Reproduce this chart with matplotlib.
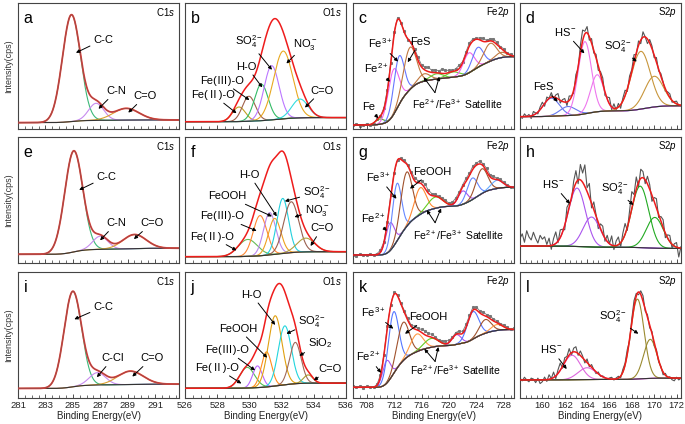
import numpy as np
import matplotlib
matplotlib.use("Agg")
import matplotlib.pyplot as plt
from matplotlib.ticker import MultipleLocator

plt.rcParams["font.family"] = ["Liberation Sans", "Noto Sans CJK SC", "DejaVu Sans"]
plt.rcParams["mathtext.fontset"] = "custom"
plt.rcParams["mathtext.rm"] = "Liberation Sans"
plt.rcParams["mathtext.it"] = "Liberation Sans:italic"
plt.rcParams["mathtext.bf"] = "Liberation Sans:bold"

# ---- fitted components: (centre eV, height, fwhm eV), heights relative to main peak ----
# C1s
peaks_a = [(284.9, 1.00, 1.55), (286.7, 0.16, 1.3), (288.9, 0.11, 2.2)]
peaks_e = [(285.07, 1.00, 1.55), (287.0, 0.13, 1.3), (289.5, 0.14, 2.0)]
peaks_i = [(285.0, 1.00, 1.5), (286.8, 0.13, 1.4), (289.2, 0.14, 2.2)]
# O1s
peaks_b = [(529.35, 0.14, 0.95), (529.97, 0.24, 0.95), (530.74, 0.35, 1.0),
           (531.38, 0.52, 1.1), (532.1, 0.65, 1.4), (533.14, 0.18, 1.2)]
peaks_f = [(529.9, 0.16, 1.4), (530.66, 0.38, 1.0), (531.26, 0.40, 0.9),
           (531.57, 0.34, 0.9), (532.07, 0.52, 0.85), (532.6, 0.48, 1.1),
           (533.5, 0.13, 1.3)]
peaks_j = [(529.86, 0.20, 1.1), (530.5, 0.21, 0.7), (531.06, 0.34, 0.75),
           (531.6, 0.68, 1.0), (532.2, 0.57, 0.95), (532.85, 0.40, 0.85),
           (533.65, 0.08, 0.7)]
# Fe2p
peaks_c = [(709.9, 0.05, 1.5), (711.9, 0.43, 1.9), (712.7, 0.46, 1.8), (714.3, 0.40, 2.2),
           (716.4, 0.07, 2.0), (718.2, 0.05, 2.2), (720.6, 0.05, 2.2),
           (722.9, 0.19, 1.9), (724.2, 0.19, 1.9), (726.0, 0.17, 2.2), (727.6, 0.05, 2.0)]
peaks_g = [(711.4, 0.27, 1.5), (712.4, 0.56, 1.6), (713.8, 0.53, 2.0), (715.8, 0.26, 2.0),
           (718.0, 0.11, 2.5), (722.0, 0.13, 1.6), (723.4, 0.21, 1.8), (724.8, 0.24, 2.0),
           (727.0, 0.08, 2.0)]
peaks_k = [(710.9, 0.23, 1.4), (711.9, 0.63, 1.8), (713.3, 0.39, 2.1), (715.3, 0.18, 2.2),
           (717.4, 0.09, 2.5), (721.1, 0.10, 1.6), (723.5, 0.28, 2.0), (725.3, 0.14, 2.0),
           (727.0, 0.06, 2.0)]
# S2p
peaks_d = [(160.8, 0.20, 1.7), (162.3, 0.10, 1.7), (163.8, 0.80, 1.4), (164.9, 0.41, 1.4),
           (168.8, 0.64, 2.0), (170.0, 0.34, 2.0)]
peaks_h = [(163.1, 0.76, 1.8), (164.4, 0.39, 1.8), (168.75, 0.80, 1.8), (170.06, 0.40, 1.8)]
peaks_l = [(162.65, 0.27, 1.8), (164.0, 0.13, 1.9), (168.5, 0.88, 1.4), (169.65, 0.43, 1.4)]

# background level reached at the high binding-energy end
bg_end = {"a": 0.025, "e": 0.06, "i": 0.045, "b": 0.04, "f": 0.047, "j": 0.05,
          "c": 0.65, "g": 0.66, "k": 0.59, "d": 0.12, "h": -0.03, "l": 0.02}

# raw-minus-fit residuals
dev_c = [0.00, 0.01, -0.01, 0.00, 0.01, 0.00, -0.01, 0.01, 0.00, 0.01, 0.02, 0.01,
         0.03, 0.02, 0.00, 0.01, -0.01, 0.01, 0.02, 0.03, 0.02, 0.03, 0.04, 0.02,
         0.03, 0.02, 0.04, 0.03, 0.02, 0.01, 0.02, 0.03, 0.01, 0.02, 0.03, 0.02,
         0.01, 0.02, 0.03, 0.01, 0.02, 0.03, 0.02, 0.01, 0.02, 0.00, 0.01, 0.00]
dev_g = [0.00, -0.01, 0.01, 0.00, 0.00, 0.01, 0.00, 0.01, 0.02, 0.01, 0.01, 0.02,
         0.01, 0.00, 0.01, 0.02, 0.01, 0.02, 0.03, 0.02, 0.03, 0.04, 0.03, 0.02,
         0.02, 0.01, 0.02, 0.02, 0.01, 0.02, 0.03, 0.02, 0.02, 0.03, 0.02, 0.03,
         0.02, 0.03, 0.02, 0.03, 0.02, 0.03, 0.01, 0.02, 0.01, 0.01, 0.00, 0.00]
dev_k = [0.01, 0.00, 0.01, -0.01, 0.01, 0.00, 0.00, 0.01, 0.02, 0.01, 0.02, 0.01,
         0.02, 0.01, 0.01, 0.02, 0.02, 0.01, 0.03, 0.02, 0.03, 0.04, 0.03, 0.03,
         0.02, 0.01, 0.02, 0.03, 0.02, 0.01, 0.02, 0.03, 0.02, 0.03, 0.02, 0.03,
         0.03, 0.02, 0.03, 0.02, 0.03, 0.02, 0.02, 0.01, 0.02, 0.01, 0.00, 0.01]
dev_d = [0.01, -0.02, 0.03, 0.00, 0.02, -0.03, 0.04, 0.01, -0.02, 0.03, 0.05,
         -0.03, 0.04, 0.00, 0.05, -0.02, 0.03, 0.06, -0.03, 0.02, 0.04, -0.04, 0.05, 0.01, -0.03,
         0.06, -0.02, 0.08, 0.12, 0.03, 0.07, -0.04, 0.05, -0.03, 0.04,
         -0.05, 0.03, 0.06, -0.04, 0.02, 0.07, -0.03, 0.05, -0.02, 0.04,
         -0.04, 0.03, 0.06, -0.03, 0.05, 0.02, 0.08, -0.02, 0.05, -0.04, 0.06, 0.00, -0.05, 0.04, 0.03,
         -0.03, 0.05, -0.02, 0.03, 0.01, -0.03, 0.02, 0.04, -0.02, 0.01, 0.03, -0.01, 0.00]
dev_h = [0.10, 0.16, 0.05, 0.20, 0.12, 0.08, 0.18, 0.10, 0.04, 0.14, 0.09,
         0.12, 0.02, 0.10, -0.05, 0.08, 0.15, -0.02, 0.10, 0.04, -0.06, 0.12, 0.05, -0.04, 0.10,
         0.16, -0.05, 0.20, 0.12, 0.28, 0.05, 0.18, -0.06, 0.10, 0.02,
         -0.08, 0.06, 0.10, -0.04, 0.08, 0.00, 0.12, -0.05, 0.06, 0.10,
         -0.06, 0.08, 0.14, -0.04, 0.10, 0.22, 0.05, 0.16, -0.06, 0.12, 0.08, -0.05, 0.10, 0.06, -0.08,
         0.05, 0.12, -0.04, 0.06, 0.10, -0.06, 0.04, 0.08, -0.05, 0.03, 0.06, -0.12, 0.02]
dev_l = [0.02, -0.01, 0.03, 0.00, -0.02, 0.02, 0.01, -0.03, 0.02, -0.04, -0.02,
         0.03, -0.02, 0.05, 0.00, 0.06, -0.03, 0.04, 0.08, -0.02, 0.05, 0.02, 0.07, -0.03, 0.04,
         0.06, -0.02, 0.05, 0.02, -0.03, 0.04, -0.02, 0.03, 0.00, -0.02,
         0.02, -0.01, 0.01, 0.00, -0.01, 0.01, 0.02, -0.01, 0.01, 0.02,
         -0.02, 0.03, 0.02, 0.05, -0.02, 0.04, 0.07, 0.03, -0.03, 0.04, 0.06, -0.02, 0.03, -0.03, 0.02,
         -0.04, 0.02, -0.02, 0.01, -0.03, 0.02, -0.01, 0.01, -0.02, -0.03, 0.01, -0.02, 0.00]

# ---- styling ----
C1S_COL = ["#3cb878", "#c78bef", "#d9a030"]
colors = {
    "a": C1S_COL, "e": C1S_COL, "i": C1S_COL,
    "b": ["#c0a020", "#a0604a", "#33bb66", "#bb77ff", "#e8a820", "#33dddd"],
    "f": ["#66bb55", "#ff8833", "#bb88ee", "#eea020", "#22d0dd", "#9a6050", "#b0a040"],
    "j": ["#55bb55", "#bb66ff", "#ff8c1a", "#e0a010", "#22d5dd", "#a06a5a", "#a89a30"],
    "c": ["#55aa22", "#ee66ee", "#6677ff", "#c07840", "#c07840", "#66cc33", "#66cc33",
          "#ee66ee", "#6677ff", "#c07840", "#c07840"],
    "g": ["#aa55ee", "#6688ff", "#a0522d", "#ff8833", "#66cc22", "#aa55ee", "#6688ff",
          "#a0522d", "#66aaff"],
    "k": ["#aa55ee", "#5577ff", "#a0522d", "#ff9944", "#66cc22", "#aa55ee", "#5577ff",
          "#a0522d", "#ff9944"],
    "d": ["#6677ee", "#6677ee", "#ee77ee", "#ee77ee", "#c8963c", "#c8963c"],
    "h": ["#aa55ee", "#aa55ee", "#22aa22", "#22aa22"],
    "l": ["#dd66dd", "#dd66dd", "#9a8a30", "#9a8a30"],
}

W, H = 685, 424
col_left = [18, 185, 353, 520]
row_top = [3, 137, 272]
pw, ph = 161, 126

xr = {"C1s": (281, 292.75), "O1s": (526, 536), "Fe2p": (706, 729.5), "S2p": (158, 172.4)}
xticks = {"C1s": (281, 2, 0.5), "O1s": (526, 2, 0.5), "Fe2p": (708, 4, 1), "S2p": (160, 2, 0.5)}
core_txt = {"C1s": "C1$s$", "O1s": "O1$s$", "Fe2p": "Fe2$p$", "S2p": "S2$p$"}

panels = [
    ("a", 0, 0, "C1s", peaks_a, (-0.06, 1.12), None),
    ("b", 0, 1, "O1s", peaks_b, (-0.07, 1.14), None),
    ("c", 0, 2, "Fe2p", peaks_c, (-0.038, 1.16), dev_c),
    ("d", 0, 3, "S2p", peaks_d, (-0.137, 1.26), dev_d),
    ("e", 1, 0, "C1s", peaks_e, (-0.086, 1.16), None),
    ("f", 1, 1, "O1s", peaks_f, (-0.06, 1.13), None),
    ("g", 1, 2, "Fe2p", peaks_g, (-0.078, 1.15), dev_g),
    ("h", 1, 3, "S2p", peaks_h, (-0.22, 1.42), dev_h),
    ("i", 2, 0, "C1s", peaks_i, (-0.10, 1.22), None),
    ("j", 2, 1, "O1s", peaks_j, (-0.094, 1.126), None),
    ("k", 2, 2, "Fe2p", peaks_k, (-0.109, 1.177), dev_k),
    ("l", 2, 3, "S2p", peaks_l, (-0.199, 1.19), dev_l),
]

# labels: (text, text position, arrow tip) in axes fraction
SO4 = "SO$_4^{2-}$"
FE2 = "Fe$^{2+}$"
FE3 = "Fe$^{3+}$"
notes = {
    "a": [("C-C", (0.53, 0.71), (0.36, 0.605)), ("C-N", (0.61, 0.30), (0.50, 0.16)),
          ("C=O", (0.79, 0.26), (0.685, 0.13))],
    "e": [("C-C", (0.55, 0.685), (0.38, 0.58)), ("C-N", (0.61, 0.315), (0.51, 0.18)),
          ("C=O", (0.83, 0.315), (0.72, 0.19))],
    "i": [("C-C", (0.53, 0.725), (0.35, 0.625)), ("C-Cl", (0.59, 0.315), (0.49, 0.165)),
          ("C=O", (0.83, 0.315), (0.71, 0.17))],
    "b": [(SO4, (0.40, 0.69), (0.54, 0.47)), ("NO$_3^-$", (0.745, 0.67), (0.63, 0.52)),
          ("H-O", (0.383, 0.495), (0.48, 0.33)), ("Fe(Ⅲ)-O", (0.228, 0.383), (0.40, 0.23)),
          ("Fe(Ⅱ)-O", (0.176, 0.27), (0.32, 0.125)), ("C=O", (0.85, 0.305), (0.745, 0.17))],
    "f": [("H-O", (0.40, 0.70), (0.57, 0.37)), (SO4, (0.82, 0.56), (0.62, 0.49)),
          ("FeOOH", (0.265, 0.53), (0.54, 0.37)), ("NO$_3^-$", (0.82, 0.42), (0.68, 0.365)),
          ("Fe(Ⅲ)-O", (0.228, 0.37), (0.445, 0.255)), ("Fe(Ⅱ)-O", (0.165, 0.21), (0.32, 0.10)),
          ("C=O", (0.85, 0.275), (0.78, 0.135))],
    "j": [("H-O", (0.414, 0.82), (0.56, 0.58)), ("FeOOH", (0.33, 0.55), (0.51, 0.32)),
          (SO4, (0.79, 0.605), (0.63, 0.51)), ("SiO$_2$", (0.84, 0.435), (0.71, 0.335)),
          ("Fe(Ⅲ)-O", (0.26, 0.38), (0.435, 0.22)), ("Fe(Ⅱ)-O", (0.197, 0.24), (0.35, 0.115)),
          ("C=O", (0.90, 0.23), (0.80, 0.14))],
    "c": [("FeS", (0.416, 0.69), (0.34, 0.53)), (FE3, (0.168, 0.68), (0.28, 0.535)),
          (FE2, (0.147, 0.48), (0.23, 0.375)), ("Fe", (0.095, 0.177), (0.157, 0.085))],
    "g": [(FE3, (0.157, 0.685), (0.27, 0.51)), ("FeOOH", (0.49, 0.725), (0.354, 0.59)),
          (FE2, (0.126, 0.36), (0.21, 0.255))],
    "k": [(FE3, (0.126, 0.68), (0.25, 0.55)), ("FeOOH", (0.468, 0.64), (0.323, 0.51)),
          (FE2, (0.095, 0.33), (0.174, 0.20))],
    "d": [("HS$^-$", (0.28, 0.77), (0.40, 0.60)), (SO4, (0.61, 0.655), (0.725, 0.535)),
          ("FeS", (0.145, 0.33), (0.234, 0.217))],
    "h": [("HS$^-$", (0.207, 0.625), (0.31, 0.47)), (SO4, (0.59, 0.59), (0.704, 0.46))],
    "l": [(SO4, (0.58, 0.645), (0.735, 0.51)), ("HS$^-$", (0.197, 0.385), (0.29, 0.23))],
}
# Fe2p satellite label: text position, vertex, two tips
satellite = {
    "c": ((0.65, 0.20), (0.509, 0.289), (0.439, 0.41), (0.536, 0.415)),
    "g": ((0.654, 0.22), (0.51, 0.32), (0.458, 0.42), (0.547, 0.434)),
    "k": ((0.634, 0.22), (0.51, 0.29), (0.443, 0.39), (0.53, 0.405)),
}


def gauss(x, c, h, w):
    return h * np.exp(-4 * np.log(2) * ((x - c) / w) ** 2)


def shirley(comps, end):
    s = np.cumsum(comps.sum(axis=0))
    return end * s / s[-1]


arrow = dict(arrowstyle="-|>", color="black", lw=0.7, mutation_scale=5, shrinkA=0.5, shrinkB=0)

fig = plt.figure(figsize=(W / 100, H / 100), dpi=100)

for key, r, cidx, core, peaks, ylim, dev in panels:
    ax = fig.add_axes([col_left[cidx] / W, 1 - (row_top[r] + ph) / H, pw / W, ph / H])
    lo, hi = xr[core]
    x = np.linspace(lo, hi, 700)
    comps = np.array([gauss(x, c, h, w) for c, h, w in peaks])
    bg = shirley(comps, bg_end[key])
    env = bg + comps.sum(axis=0)

    if dev is not None:
        xd = np.linspace(lo, hi, len(dev))
        raw = np.interp(xd, x, env) + np.array(dev)
        if core == "Fe2p":
            ax.plot(xd, raw, color="#777777", lw=0.6, marker="s", ms=1.2, zorder=1)
        else:
            ax.plot(xd, raw, color="#555555", lw=0.8, zorder=1)
    for comp, col in zip(comps, colors[key]):
        ax.plot(x, bg + comp, color=col, lw=0.8, zorder=2)
    ax.plot(x, bg, color="#333333", lw=0.8, zorder=3)
    if core == "C1s":
        ax.plot(x, env, color="#e8403a", lw=1.3, zorder=4)
        ax.plot(x, env, color="#8e4a4a", lw=0.5, zorder=5)
    else:
        ax.plot(x, env, color="#ee1c1c", lw=1.1, zorder=4)

    ax.set_xlim(lo, hi)
    ax.set_ylim(*ylim)
    start, step, minor = xticks[core]
    ax.set_xticks(np.arange(start, hi + 0.01, step))
    ax.xaxis.set_minor_locator(MultipleLocator(minor))
    ax.set_yticks([])
    ax.tick_params(axis="x", which="major", direction="in", length=3, width=0.6,
                   labelsize=6.8, pad=2, colors="#333333", labelcolor="#222222")
    ax.tick_params(axis="x", which="minor", direction="in", length=2, width=0.5, colors="#333333")
    if r < 2:
        ax.tick_params(axis="x", labelbottom=False)
    else:
        ax.set_xlabel("Binding Energy(eV)", fontsize=7, labelpad=1, color="#222222")
    for sp in ax.spines.values():
        sp.set_linewidth(0.8)
        sp.set_color("#444444")

    ax.text(0.035, 0.875, key, transform=ax.transAxes, fontsize=11.5, va="center", ha="left")
    ax.text(0.975, 0.925, core_txt[core], transform=ax.transAxes, fontsize=7, va="center", ha="right")

    for txt, pos, tip in notes[key]:
        ax.annotate(txt, xy=tip, xycoords="axes fraction", xytext=pos, textcoords="axes fraction",
                    ha="center", va="center", fontsize=8, arrowprops=arrow, zorder=6)
    if key in satellite:
        pos, vert, t1, t2 = satellite[key]
        ax.text(pos[0], pos[1], "Fe$^{2+}$/Fe$^{3+}$ Satellite", transform=ax.transAxes,
                ha="center", va="center", fontsize=7.5)
        for t in (t1, t2):
            ax.annotate("", xy=t, xycoords="axes fraction", xytext=vert, textcoords="axes fraction",
                        arrowprops=dict(arrow, shrinkA=0))

    if cidx == 0:
        fig.text(9 / W, 1 - (row_top[r] + ph / 2) / H, "Intensity(cps)", rotation=90,
                 ha="center", va="center", fontsize=6.5, color="#333333")

fig.savefig("out.png", dpi=100)
